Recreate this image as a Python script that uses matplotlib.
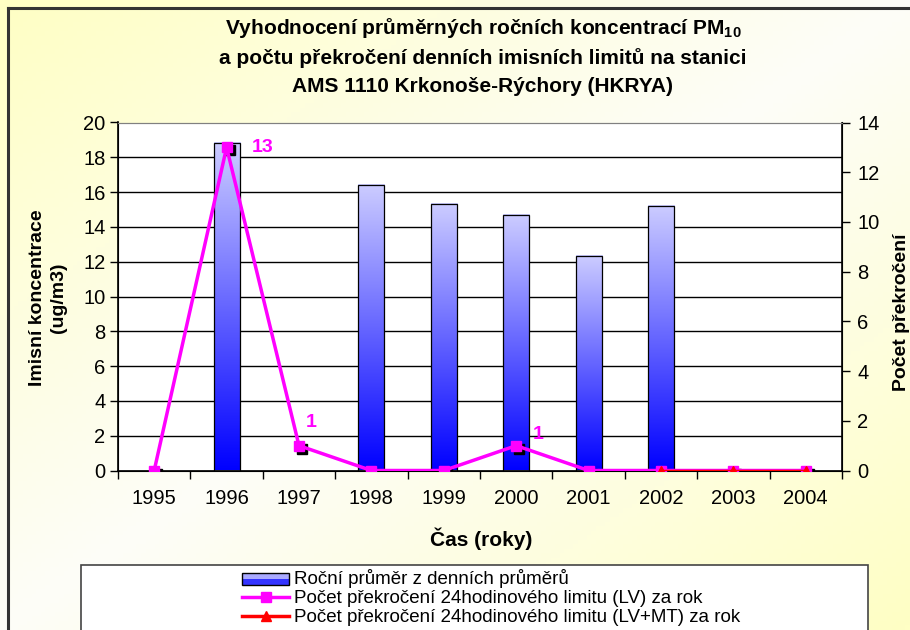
import numpy as np
import matplotlib
matplotlib.use("Agg")
import matplotlib.pyplot as plt
from matplotlib.patches import Rectangle
from matplotlib.lines import Line2D
from matplotlib.legend_handler import HandlerBase
import matplotlib.transforms as mtransforms

plt.rcParams['font.family'] = ['Liberation Sans', 'DejaVu Sans']
plt.rcParams['mathtext.fontset'] = 'custom'
plt.rcParams['mathtext.rm'] = 'Liberation Sans'
plt.rcParams['mathtext.bf'] = 'Liberation Sans:bold'

# ---- data ----
years = ['1995', '1996', '1997', '1998', '1999', '2000', '2001', '2002', '2003', '2004']
annual_mean = [np.nan, 18.8, np.nan, 16.4, 15.3, 14.7, 12.3, 15.2, np.nan, np.nan]
exceed_lv = [0, 13, 1, 0, 0, 1, 0, 0, 0, 0]
exceed_lvmt = [np.nan, np.nan, np.nan, np.nan, np.nan, np.nan, np.nan, 0, 0, 0]
label_years = ['1996', '1997', '2000']

title_lines = ["Vyhodnocení průměrných ročních koncentrací PM$_{\\mathbf{10}}$",
               "a počtu překročení denních imisních limitů na stanici",
               "AMS 1110 Krkonoše-Rýchory (HKRYA)"]
leg_labels = ["Roční průměr z denních průměrů",
              "Počet překročení 24hodinového limitu (LV) za rok",
              "Počet překročení 24hodinového limitu (LV+MT) za rok"]

W, H = 910, 630
fig = plt.figure(figsize=(W / 100, H / 100), dpi=100)

# background gradient
bg = fig.add_axes([0, 0, 1, 1], zorder=-10)
xx, yy = np.meshgrid(np.linspace(0, 1, 200), np.linspace(0, 1, 140))
t = np.abs(xx + yy - 1.0)
white = np.array([253, 253, 248]) / 255
yellow = np.array([255, 255, 196]) / 255
img = white[None, None, :] * (1 - t[..., None]) + yellow[None, None, :] * t[..., None]
bg.imshow(img, extent=[0, 1, 0, 1], aspect='auto', origin='upper')
bg.set_xlim(0, 1); bg.set_ylim(0, 1)
bg.axis('off')

def fx(px):
    return px / W

def fy(py):
    return 1 - py / H

# figure border
fig.add_artist(Line2D([fx(8), 1.0], [fy(8), fy(8)], color='#333333', lw=2.2))
fig.add_artist(Line2D([fx(8), fx(8)], [fy(8), 0.0], color='#333333', lw=2.2))

# main axes
L, R, T, B = 118, 842, 122.5, 470.5
ax = fig.add_axes([fx(L), fy(B), fx(R - L), (B - T) / H])
ax.set_facecolor('white')
x = np.arange(len(years))
ax.set_xlim(-0.5, len(years) - 0.5)
ax.set_ylim(0, 20)
ax.set_yticks(np.arange(0, 21, 2))
ax.yaxis.grid(True, color='black', lw=1.0)
ax.set_axisbelow(True)

bars = ax.bar(x, annual_mean, width=0.36, color='none', edgecolor='black', lw=0.9, zorder=3)
grad = np.linspace(0, 1, 256)[:, None]
cmap = matplotlib.colors.LinearSegmentedColormap.from_list('bb', ['#0000FF', '#CCCCFF'])
for b in bars:
    h = b.get_height()
    if np.isnan(h):
        continue
    x0 = b.get_x(); w = b.get_width()
    ax.imshow(grad, extent=[x0, x0 + w, 0, h], origin='lower', aspect='auto',
              cmap=cmap, zorder=2.5)
ax.set_xlim(-0.5, len(years) - 0.5)
ax.set_ylim(0, 20)

TICK_FS = 14.5
ax.set_xticks(np.arange(-0.5, len(years), 1.0))
ax.set_xticklabels([])
ax.set_xticks(x, minor=True)
ax.set_xticklabels(years, minor=True)
ax.tick_params(axis='x', which='major', length=6, width=1, direction='out', color='black')
ax.tick_params(axis='x', which='minor', length=0, pad=13, labelsize=TICK_FS)
ax.tick_params(axis='y', length=6, width=1, direction='out', labelsize=TICK_FS, pad=3)
for s in ['left', 'bottom']:
    ax.spines[s].set_color('black'); ax.spines[s].set_linewidth(1.2)
ax.spines['top'].set_color('#808080')
ax.spines['right'].set_color('black')

ax2 = ax.twinx()
ax2.set_ylim(0, 14)
ax2.set_yticks(np.arange(0, 15, 2))
ax2.tick_params(axis='y', length=6, width=1, direction='out', labelsize=TICK_FS, pad=5)
ax2.spines['right'].set_color('black'); ax2.spines['right'].set_linewidth(1.2)
ax2.spines['top'].set_color('#808080')

# marker shadows
shadow = mtransforms.offset_copy(ax2.transData, fig=fig, x=3, y=-3, units='dots')
ax2.plot(x, exceed_lv, ls='none', marker='s', ms=7, color='black', transform=shadow, zorder=3)
ax2.plot(x, exceed_lvmt, ls='none', marker='^', ms=7, color='black', transform=shadow, zorder=3)

ax2.plot(x, exceed_lv, color='#FF00FF', lw=2.5, marker='s', ms=7, zorder=4)
ax2.plot(x, exceed_lvmt, color='#FF0000', lw=2.5, marker='^', ms=7, zorder=5)

offsets = {'1996': (26, 0), '1997': (9, 17), '2000': (16, 8)}
for yr in label_years:
    i = years.index(yr)
    ax2.annotate(str(exceed_lv[i]), (x[i], exceed_lv[i]), xytext=offsets[yr],
                 textcoords='offset points', color='#FF00FF', fontsize=14,
                 fontweight='bold', ha='center', va='center', zorder=6)

# titles
for k, line in enumerate(title_lines):
    fig.text(fx(483), fy([28, 58, 86][k]), line, ha='center', va='center',
             fontsize=15, fontweight='bold')

fig.text(fx(48), fy(298), "Imisní koncentrace\n(ug/m3)", rotation=90, ha='center',
         va='center', fontsize=14, fontweight='bold', multialignment='center', linespacing=1.35)
fig.text(fx(901), fy(312), "Počet překročení", rotation=90, ha='center', va='center',
         fontsize=14, fontweight='bold')
fig.text(fx(481), fy(539), "Čas (roky)", ha='center', va='center', fontsize=15,
         fontweight='bold')

# legend box
fig.add_artist(Rectangle((fx(81), -0.05), fx(868 - 81), fy(565) + 0.05,
                         transform=fig.transFigure, facecolor='white',
                         edgecolor='#444444', lw=1.2, zorder=1))


class GradHandler(HandlerBase):
    def create_artists(self, legend, orig, xd, yd, width, height, fontsize, trans):
        top = Rectangle((xd, yd + height / 2), width, height / 2, facecolor='#AAAAFF',
                        edgecolor='none', transform=trans)
        bot = Rectangle((xd, yd), width, height / 2, facecolor='#3333FF',
                        edgecolor='none', transform=trans)
        frame = Rectangle((xd, yd), width, height, facecolor='none', edgecolor='black',
                          lw=1.0, transform=trans)
        return [top, bot, frame]


h_bar = Rectangle((0, 0), 1, 1)
h_lv = Line2D([], [], color='#FF00FF', lw=2.5, marker='s', ms=7)
h_mt = Line2D([], [], color='#FF0000', lw=2.5, marker='^', ms=7)
leg = fig.legend([h_bar, h_lv, h_mt], leg_labels, loc='upper left',
                 bbox_to_anchor=(fx(231), fy(558)), frameon=False, fontsize=13.5,
                 handlelength=2.5, handleheight=0.6, handletextpad=0.25, labelspacing=0.1,
                 borderpad=0.1, handler_map={Rectangle: GradHandler()})
leg.set_zorder(2)

fig.savefig('out.png', dpi=100)
